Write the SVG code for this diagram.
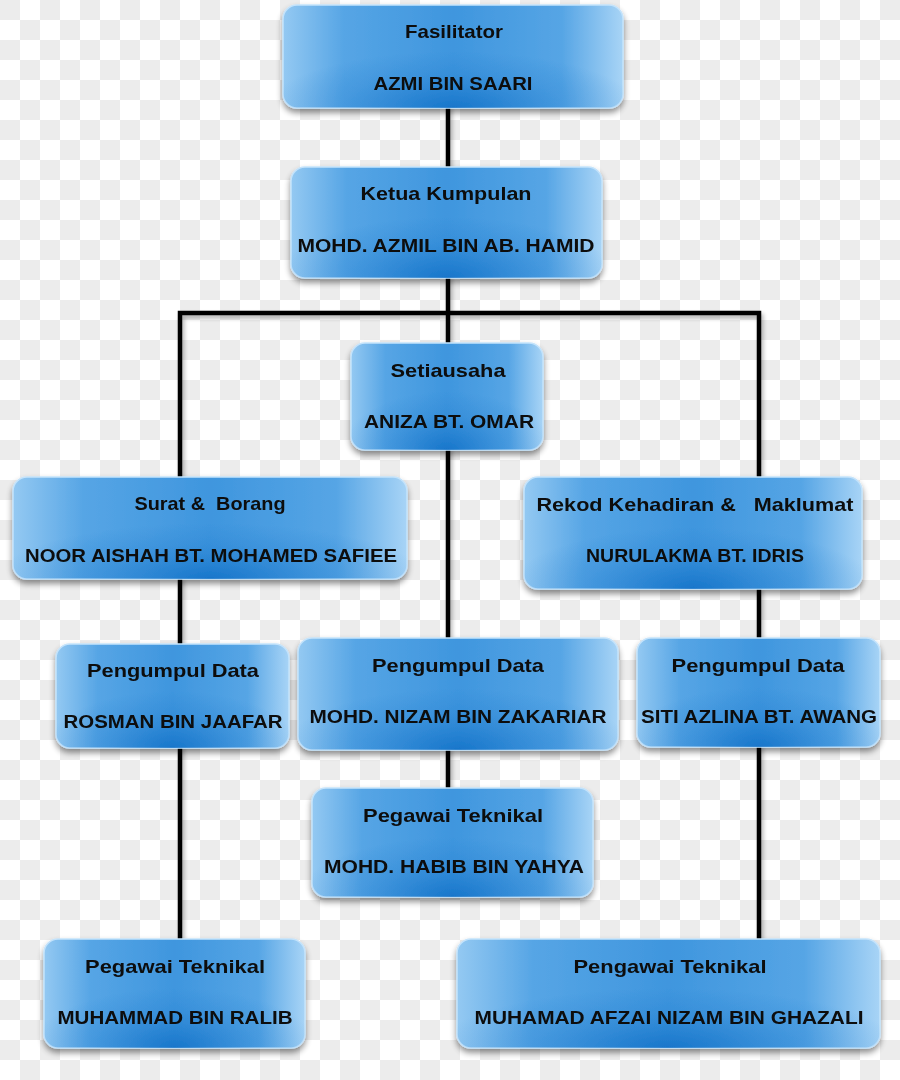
<svg xmlns="http://www.w3.org/2000/svg" width="900" height="1080" viewBox="0 0 900 1080">
<defs>
<pattern id="checker" x="0" y="0" width="40" height="40" patternUnits="userSpaceOnUse">
<rect width="40" height="40" fill="#ffffff"/>
<rect x="0" y="0" width="20" height="20" fill="#ececec"/>
<rect x="20" y="20" width="20" height="20" fill="#ececec"/>
</pattern>
<linearGradient id="boxFill" x1="0" y1="0" x2="1" y2="0">
<stop offset="0" stop-color="#94c9f2"/>
<stop offset="0.18" stop-color="#56a5e5"/>
<stop offset="0.5" stop-color="#3f96de"/>
<stop offset="0.82" stop-color="#56a5e5"/>
<stop offset="1" stop-color="#a8d4f6"/>
</linearGradient>
<radialGradient id="deep" cx="50%" cy="100%" r="55%" fx="50%" fy="100%">
<stop offset="0" stop-color="#0a6bc4" stop-opacity="0.75"/>
<stop offset="0.6" stop-color="#1a78cc" stop-opacity="0.25"/>
<stop offset="1" stop-color="#1a78cc" stop-opacity="0"/>
</radialGradient>
<filter id="shadow" x="-10%" y="-10%" width="120%" height="140%">
<feGaussianBlur in="SourceAlpha" stdDeviation="3"/>
<feOffset dx="0" dy="4" result="b"/>
<feComponentTransfer><feFuncA type="linear" slope="0.45"/></feComponentTransfer>
<feMerge><feMergeNode/><feMergeNode in="SourceGraphic"/></feMerge>
</filter>
<filter id="lineShadow" x="-10%" y="-10%" width="120%" height="120%">
<feGaussianBlur in="SourceAlpha" stdDeviation="2"/>
<feOffset dx="2" dy="3"/>
<feComponentTransfer><feFuncA type="linear" slope="0.3"/></feComponentTransfer>
<feMerge><feMergeNode/><feMergeNode in="SourceGraphic"/></feMerge>
</filter>
</defs>
<style>
.box{fill:url(#boxFill);stroke:#c4e3fb;stroke-width:1.5}
.gl{fill:url(#deep);stroke:none}
.t{font-family:"Liberation Sans",Arial,sans-serif;font-size:19px;font-weight:bold;fill:#0d0d0d;text-anchor:middle}
.ln{stroke:#000;stroke-width:4.5;fill:none;stroke-linecap:square}
</style>
<rect width="900" height="1080" fill="url(#checker)"/>

<g id="connectors" filter="url(#lineShadow)">
<line class="ln" x1="448" y1="107" x2="448" y2="168"/>
<line class="ln" x1="448" y1="277" x2="448" y2="344"/>
<polyline class="ln" points="180,478 180,313 759,313 759,478"/>
<line class="ln" x1="448" y1="449" x2="448" y2="639"/>
<line class="ln" x1="180" y1="579" x2="180" y2="645"/>
<line class="ln" x1="759" y1="589" x2="759" y2="639"/>
<line class="ln" x1="180" y1="747" x2="180" y2="939"/>
<line class="ln" x1="448" y1="749" x2="448" y2="789"/>
<line class="ln" x1="759" y1="746" x2="759" y2="940"/>
</g>

<g id="fasilitator" filter="url(#shadow)">
<rect class="box" x="283" y="5" width="340" height="103" rx="14"/>
<rect class="gl" x="283" y="5" width="340" height="103" rx="14"/>
<text class="t" x="454" y="38" textLength="98" lengthAdjust="spacingAndGlyphs">Fasilitator</text>
<text class="t" x="453" y="90" textLength="159" lengthAdjust="spacingAndGlyphs">AZMI BIN SAARI</text>
</g>

<g id="ketua" filter="url(#shadow)">
<rect class="box" x="291" y="167" width="311" height="111" rx="14"/>
<rect class="gl" x="291" y="167" width="311" height="111" rx="14"/>
<text class="t" x="446" y="200" textLength="171" lengthAdjust="spacingAndGlyphs">Ketua Kumpulan</text>
<text class="t" x="446" y="252" textLength="297" lengthAdjust="spacingAndGlyphs">MOHD. AZMIL BIN AB. HAMID</text>
</g>

<g id="setiausaha" filter="url(#shadow)">
<rect class="box" x="351" y="343" width="192" height="107" rx="14"/>
<rect class="gl" x="351" y="343" width="192" height="107" rx="14"/>
<text class="t" x="448" y="377" textLength="115" lengthAdjust="spacingAndGlyphs">Setiausaha</text>
<text class="t" x="449" y="428" textLength="170" lengthAdjust="spacingAndGlyphs">ANIZA BT. OMAR</text>
</g>

<g id="surat" filter="url(#shadow)">
<rect class="box" x="13" y="477" width="394" height="102" rx="14"/>
<rect class="gl" x="13" y="477" width="394" height="102" rx="14"/>
<text class="t" x="210" y="510" textLength="151" lengthAdjust="spacingAndGlyphs" xml:space="preserve">Surat &amp;  Borang</text>
<text class="t" x="211" y="562" textLength="372" lengthAdjust="spacingAndGlyphs">NOOR AISHAH BT. MOHAMED SAFIEE</text>
</g>

<g id="rekod" filter="url(#shadow)">
<rect class="box" x="524" y="477" width="338" height="112" rx="14"/>
<rect class="gl" x="524" y="477" width="338" height="112" rx="14"/>
<text class="t" x="695" y="511" textLength="317" lengthAdjust="spacingAndGlyphs" xml:space="preserve">Rekod Kehadiran &amp;   Maklumat</text>
<text class="t" x="695" y="562" textLength="218" lengthAdjust="spacingAndGlyphs">NURULAKMA BT. IDRIS</text>
</g>

<g id="pengumpul-rosman" filter="url(#shadow)">
<rect class="box" x="56" y="644" width="233" height="104" rx="14"/>
<rect class="gl" x="56" y="644" width="233" height="104" rx="14"/>
<text class="t" x="173" y="677" textLength="172" lengthAdjust="spacingAndGlyphs">Pengumpul Data</text>
<text class="t" x="173" y="728" textLength="219" lengthAdjust="spacingAndGlyphs">ROSMAN BIN JAAFAR</text>
</g>

<g id="pengumpul-nizam" filter="url(#shadow)">
<rect class="box" x="298" y="638" width="320" height="112" rx="14"/>
<rect class="gl" x="298" y="638" width="320" height="112" rx="14"/>
<text class="t" x="458" y="672" textLength="172" lengthAdjust="spacingAndGlyphs">Pengumpul Data</text>
<text class="t" x="458" y="723" textLength="297" lengthAdjust="spacingAndGlyphs">MOHD. NIZAM BIN ZAKARIAR</text>
</g>

<g id="pengumpul-siti" filter="url(#shadow)">
<rect class="box" x="637" y="638" width="243" height="109" rx="14"/>
<rect class="gl" x="637" y="638" width="243" height="109" rx="14"/>
<text class="t" x="758" y="672" textLength="173" lengthAdjust="spacingAndGlyphs">Pengumpul Data</text>
<text class="t" x="759" y="723" textLength="236" lengthAdjust="spacingAndGlyphs">SITI AZLINA BT. AWANG</text>
</g>

<g id="pegawai-habib" filter="url(#shadow)">
<rect class="box" x="312" y="788" width="281" height="109" rx="14"/>
<rect class="gl" x="312" y="788" width="281" height="109" rx="14"/>
<text class="t" x="453" y="822" textLength="180" lengthAdjust="spacingAndGlyphs">Pegawai Teknikal</text>
<text class="t" x="454" y="873" textLength="260" lengthAdjust="spacingAndGlyphs">MOHD. HABIB BIN YAHYA</text>
</g>

<g id="pegawai-ralib" filter="url(#shadow)">
<rect class="box" x="44" y="939" width="261" height="109" rx="14"/>
<rect class="gl" x="44" y="939" width="261" height="109" rx="14"/>
<text class="t" x="175" y="973" textLength="180" lengthAdjust="spacingAndGlyphs">Pegawai Teknikal</text>
<text class="t" x="175" y="1024" textLength="235" lengthAdjust="spacingAndGlyphs">MUHAMMAD BIN RALIB</text>
</g>

<g id="pengawai-afzai" filter="url(#shadow)">
<rect class="box" x="457" y="939" width="423" height="109" rx="14"/>
<rect class="gl" x="457" y="939" width="423" height="109" rx="14"/>
<text class="t" x="670" y="973" textLength="193" lengthAdjust="spacingAndGlyphs">Pengawai Teknikal</text>
<text class="t" x="669" y="1024" textLength="389" lengthAdjust="spacingAndGlyphs">MUHAMAD AFZAI NIZAM BIN GHAZALI</text>
</g>
</svg>
